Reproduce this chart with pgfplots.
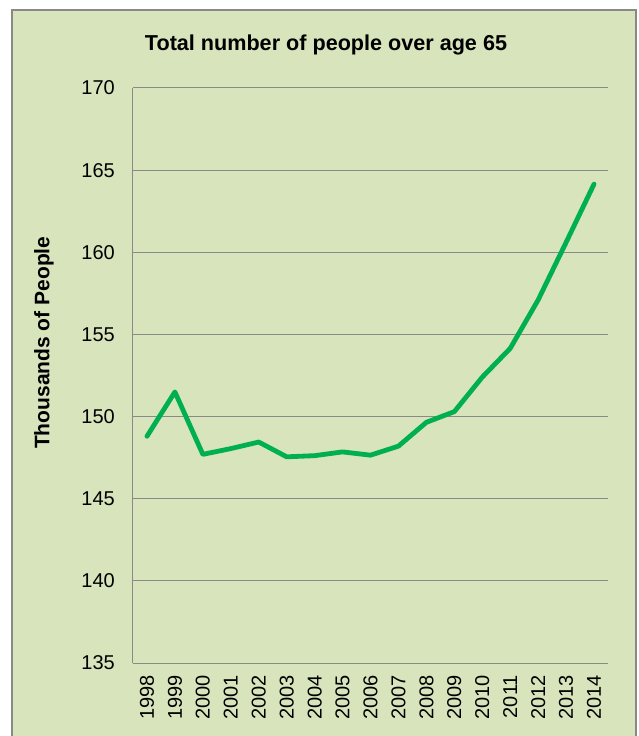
\documentclass[border=0pt]{standalone}
\usepackage{pgfplots}
\pgfplotsset{compat=1.18}
\usepackage{fontspec}
\setmainfont{Liberation Sans}
\definecolor{bgc}{HTML}{D8E4BC}
\definecolor{gridc}{HTML}{898989}
\definecolor{linec}{HTML}{00B050}
\begin{document}
\begin{tikzpicture}[x=1pt,y=1pt]
\useasboundingbox (-133,-73) rectangle (506,663);
\fill[white] (-133,-73) rectangle (506,663);
\filldraw[fill=bgc,draw=gridc,line width=1.2pt] (-121,-75) rectangle (503,653);
\node[font=\bfseries\fontsize{21.6}{24}\selectfont] at (193,618) {Total number of people over age 65};
\begin{axis}[
  at={(0,0)},anchor=south west,
  scale only axis,
  width=475pt,height=575pt,
  xmin=-0.5,xmax=16.5,
  ymin=135,ymax=170,
  ytick={135,140,...,170},
  xtick={0,...,16},
  xticklabels={1998,1999,2000,2001,2002,2003,2004,2005,2006,2007,2008,2009,2010,2011,2012,2013,2014},
  extra x ticks={-0.5,0.5,...,16.5},
  extra x tick labels={},
  extra x tick style={major tick length=5pt,tick style={gridc,line width=1pt},tick pos=bottom,xtick align=outside},
  major x tick style={draw=none},
  x tick label style={rotate=90,anchor=east,inner sep=0pt,xshift=-12pt,font=\fontsize{20}{22}\selectfont},
  y tick label style={font=\fontsize{20}{22}\selectfont,inner sep=0pt,xshift=-18pt},
  ymajorgrids,
  grid style={gridc,line width=1pt},
  major y tick style={draw=none},
  axis line style={gridc,line width=1pt},
  axis x line*=bottom,
  axis y line*=left,
  ylabel={\bfseries Thousands of People},
  ylabel style={font=\fontsize{21}{24}\selectfont,at={(axis description cs:0,0.557)},anchor=center,yshift=89pt},
  /pgf/number format/assume math mode=true,
  clip=false,
]
\addplot[linec,line width=4.8pt,line join=round,line cap=round] coordinates {
(0,148.8) (1,151.5) (2,147.7) (3,148.05) (4,148.45) (5,147.55) (6,147.62) (7,147.85) (8,147.65) (9,148.2) (10,149.65) (11,150.3) (12,152.4) (13,154.15) (14,157.1) (15,160.6) (16,164.15)
};
\end{axis}
\end{tikzpicture}
\end{document}
